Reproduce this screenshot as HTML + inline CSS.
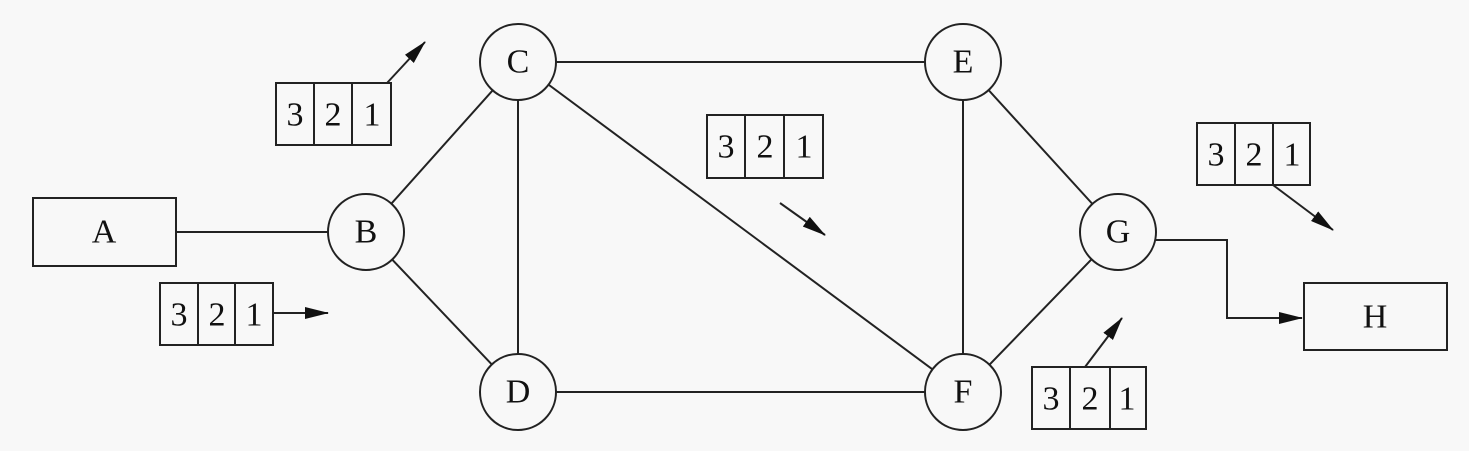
<!DOCTYPE html>
<html><head><meta charset="utf-8"><style>
html,body{margin:0;padding:0;background:#f8f8f8;}
svg{display:block;}
text{font-family:"Liberation Serif",serif;font-size:34px;fill:#111;text-anchor:middle;dominant-baseline:central;}
</style></head><body>
<svg width="1469" height="451" viewBox="0 0 1469 451" xmlns="http://www.w3.org/2000/svg">
<defs>
<marker id="arb" markerWidth="24" markerHeight="12" refX="23" refY="6" orient="auto" markerUnits="userSpaceOnUse"><path d="M0,0 L24,6 L0,12 Z" fill="#111"/></marker></defs>
<g stroke="#222" stroke-width="2" fill="none">
<line x1="176" y1="232" x2="328" y2="232"/>
<line x1="366" y1="232" x2="518" y2="62"/>
<line x1="366" y1="232" x2="518" y2="392"/>
<line x1="518" y1="62" x2="518" y2="392"/>
<line x1="518" y1="62" x2="963" y2="62"/>
<line x1="518" y1="62" x2="963" y2="392"/>
<line x1="518" y1="392" x2="963" y2="392"/>
<line x1="963" y1="62" x2="963" y2="392"/>
<line x1="963" y1="62" x2="1118" y2="232"/>
<line x1="963" y1="392" x2="1118" y2="232"/>
<polyline points="1156,240 1227,240 1227,318 1302,318" marker-end="url(#arb)"/>
</g>
<g stroke="#222" stroke-width="2" fill="#f8f8f8">
<circle cx="366" cy="232" r="38"/><circle cx="518" cy="62" r="38"/><circle cx="518" cy="392" r="38"/>
<circle cx="963" cy="62" r="38"/><circle cx="963" cy="392" r="38"/><circle cx="1118" cy="232" r="38"/>
<rect x="33" y="198" width="143" height="68"/><rect x="1304" y="283" width="143" height="67"/>
</g>
<text x="366" y="232">B</text><text x="518" y="62">C</text><text x="518" y="392">D</text>
<text x="963" y="62">E</text><text x="963" y="392">F</text><text x="1118" y="232">G</text>
<text x="104" y="232">A</text><text x="1375" y="317">H</text>
<g stroke="#222" stroke-width="2" fill="none">
<g transform="translate(276,83)"><rect width="115" height="62"/><line x1="38" y1="0" x2="38" y2="62"/><line x1="76" y1="0" x2="76" y2="62"/></g>
<g transform="translate(160,283)"><rect width="113" height="62"/><line x1="38" y1="0" x2="38" y2="62"/><line x1="75" y1="0" x2="75" y2="62"/></g>
<g transform="translate(707,115)"><rect width="116" height="63"/><line x1="38" y1="0" x2="38" y2="63"/><line x1="77" y1="0" x2="77" y2="63"/></g>
<g transform="translate(1197,123)"><rect width="113" height="62"/><line x1="38" y1="0" x2="38" y2="62"/><line x1="76" y1="0" x2="76" y2="62"/></g>
<g transform="translate(1032,367)"><rect width="114" height="62"/><line x1="38" y1="0" x2="38" y2="62"/><line x1="78" y1="0" x2="78" y2="62"/></g>
<line x1="387" y1="83" x2="425" y2="42" marker-end="url(#arb)"/>
<line x1="273" y1="313" x2="328" y2="313" marker-end="url(#arb)"/>
<line x1="780" y1="203" x2="825" y2="235" marker-end="url(#arb)"/>
<line x1="1273" y1="185" x2="1333" y2="230" marker-end="url(#arb)"/>
<line x1="1085" y1="367" x2="1122" y2="318" marker-end="url(#arb)"/>
</g>
<g>
<text x="295" y="115">3</text><text x="333" y="115">2</text><text x="372" y="115">1</text>
<text x="179" y="315">3</text><text x="217" y="315">2</text><text x="254" y="315">1</text>
<text x="726" y="147">3</text><text x="765" y="147">2</text><text x="804" y="147">1</text>
<text x="1216" y="155">3</text><text x="1254" y="155">2</text><text x="1292" y="155">1</text>
<text x="1051" y="399">3</text><text x="1090" y="399">2</text><text x="1127" y="399">1</text>
</g>
</svg>
</body></html>
